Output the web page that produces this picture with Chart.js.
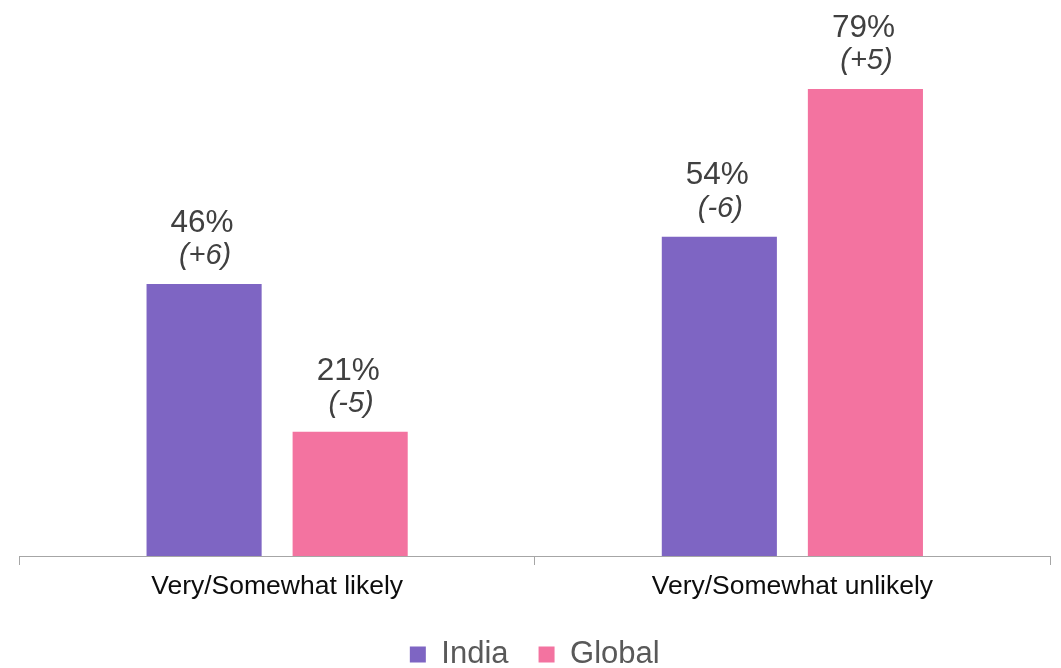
<!DOCTYPE html>
<html>
<head>
<meta charset="utf-8">
<script src="https://cdn.jsdelivr.net/npm/chart.js@4/dist/chart.umd.min.js"></script>
<style>
  html, body { margin: 0; padding: 0; background: #ffffff; }
  #wrap { width: 1061px; height: 668px; position: relative; }
</style>
</head>
<body>
<div id="wrap"><canvas id="chart"></canvas></div>
<script>
// Survey answer groups and the two series
const categories = ['Very/Somewhat likely', 'Very/Somewhat unlikely'];
const seriesNames = ['India', 'Global'];
const indiaValues = [46, 54];
const globalValues = [21, 79];
// Change versus the previous wave, shown under each percentage
const indiaChanges = ['(+6)', '(-6)'];
const globalChanges = ['(-5)', '(+5)'];

const FONT = "'Liberation Sans', Arial, sans-serif";
const changesByDataset = [indiaChanges, globalChanges];

// Draws "NN%" and the italic change below it above every bar
const barLabels = {
  id: 'barLabels',
  afterDatasetsDraw(chart) {
    const ctx = chart.ctx;
    ctx.save();
    ctx.fillStyle = '#404040';
    ctx.textAlign = 'center';
    ctx.textBaseline = 'middle';
    chart.data.datasets.forEach((ds, di) => {
      const meta = chart.getDatasetMeta(di);
      meta.data.forEach((bar, i) => {
        const v = ds.data[i];
        ctx.font = '31.5px ' + FONT;
        ctx.fillText(v + '%', bar.x - 2, bar.y - 61);
        ctx.font = 'italic 29px ' + FONT;
        ctx.fillText(changesByDataset[di][i], bar.x + 1, bar.y - 28);
      });
    });
    ctx.restore();
  }
};

new Chart(document.getElementById('chart'), {
  type: 'bar',
  data: {
    labels: categories,
    datasets: [
      { label: seriesNames[0], data: indiaValues, backgroundColor: '#7E65C3' },
      { label: seriesNames[1], data: globalValues, backgroundColor: '#F373A0' }
    ]
  },
  plugins: [barLabels],
  options: {
    responsive: true,
    maintainAspectRatio: false,
    animation: false,
    events: [],
    layout: { padding: { left: 19.5, right: 11, top: 24, bottom: -12 } },
    datasets: {
      bar: { categoryPercentage: 0.567, barPercentage: 0.788 }
    },
    scales: {
      x: {
        grid: {
          offset: true,
          drawOnChartArea: false,
          drawTicks: true,
          tickLength: 9,
          color: '#A6A6A6',
          lineWidth: 1
        },
        border: { color: '#A6A6A6', width: 1 },
        ticks: {
          color: '#0D0D0D',
          font: { family: FONT, size: 26.5, lineHeight: 1.66 },
          padding: 0
        }
      },
      y: {
        display: false,
        min: 0,
        max: 90
      }
    },
    plugins: {
      legend: {
        position: 'bottom',
        labels: {
          color: '#595959',
          font: { family: FONT, size: 31 },
          boxWidth: 16,
          boxHeight: 16,
          padding: 30
        }
      },
      tooltip: { enabled: false }
    }
  }
});
</script>
</body>
</html>
